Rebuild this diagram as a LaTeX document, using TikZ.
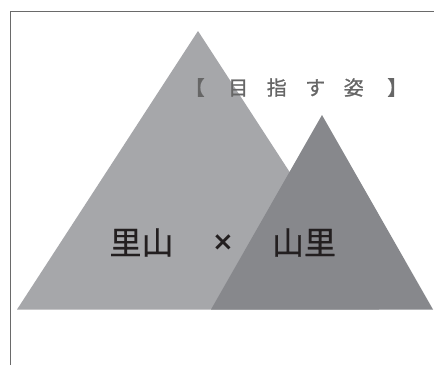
\documentclass[tikz,border=0pt]{standalone}
\usepackage{fontspec}
\newfontfamily\cjkm[FakeBold=0.6]{Noto Sans CJK JP}
\newfontfamily\cjkt[FakeBold=1.0]{Noto Sans CJK JP}
\newfontfamily\dvs{DejaVu Sans}
\definecolor{lightmt}{HTML}{A6A7AA}
\definecolor{darkmt}{HTML}{87888C}
\definecolor{framegray}{HTML}{6A6A6A}
\definecolor{labelgray}{HTML}{666666}
\definecolor{inkblack}{HTML}{231F20}
\begin{document}
\begin{tikzpicture}[x=1pt,y=-1pt,
  mountain/.style={draw=none},
  title/.style={inner sep=0pt,text=labelgray,font=\cjkt\fontsize{20}{20}\selectfont},
  big/.style={inner sep=0pt,text=inkblack,font=\cjkm\fontsize{32}{32}\selectfont}]
\useasboundingbox (0,0) rectangle (434,365);
\fill[white] (0,0) rectangle (434,365);
% frame
\draw[framegray,line width=1.3pt] (10.5,365) -- (10.5,11.5) -- (434,11.5);
% mountains
\fill[lightmt,mountain] (198,31) -- (379,309.5) -- (17,309.5) -- cycle;
\fill[darkmt,mountain] (322,115) -- (433,309.5) -- (211,309.5) -- cycle;
% labels
\node[title] (goal) at (296,87.5) {【\hspace{23.5pt}目\hspace{18.5pt}指\hspace{18.5pt}す\hspace{18.5pt}姿\hspace{23.5pt}】};
\node[big] (satoyama) at (141.5,242.5) {里山};
\node[big,font=\dvs\bfseries\fontsize{26}{26}\selectfont] (times) at (223,242.5) {×};
\node[big] (yamazato) at (304,242.5) {山里};
\end{tikzpicture}
\end{document}
